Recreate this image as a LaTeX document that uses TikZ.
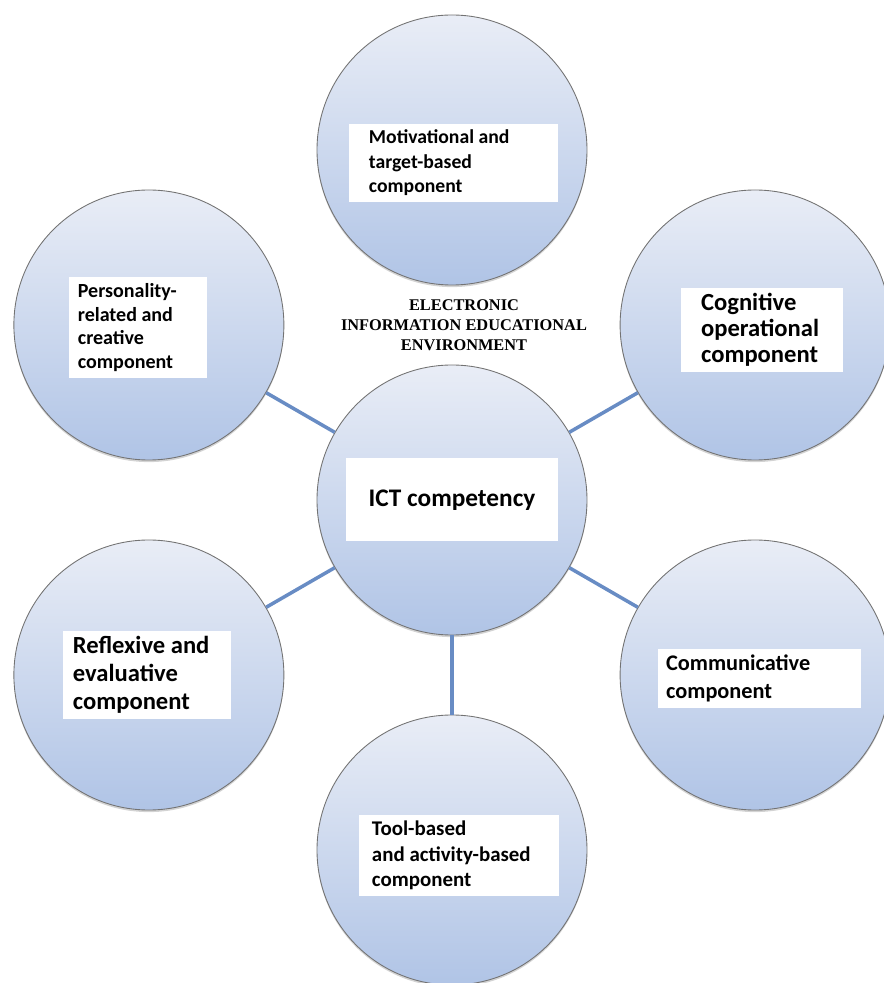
\documentclass[tikz,border=0pt]{standalone}
\usepackage{fontspec}
\setmainfont{Carlito}
\newfontfamily\serifbold[UprightFont={* Bold}]{Liberation Serif}
\usetikzlibrary{shadows}

\definecolor{ringtop}{RGB}{233,237,246}
\definecolor{ringbot}{RGB}{176,196,230}
\definecolor{linkblue}{RGB}{104,140,196}

\tikzset{
  ring/.style={circle, minimum size=5.4cm, inner sep=0pt, draw=black!55, line width=0.5pt,
    top color=ringtop, bottom color=ringbot,
    drop shadow={shadow xshift=0pt, shadow yshift=-1.2pt, opacity=0.35}},
  tag/.style={fill=white, align=left, font=\bfseries, minimum height=#1,
    execute at begin node={\spaceskip=0pt\xspaceskip=0pt}},
  link/.style={linkblue, line width=2pt}
}

\begin{document}
\begin{tikzpicture}
  \useasboundingbox (-9.04,-9.66) rectangle (8.62,10.0);
  % connectors first, the rings sit on top
  \node[ring] (ict) at (0,0) {};
  \foreach \a/\n in {90/mot,150/pers,30/cog,210/refl,330/comm,270/tool}
    \node[ring] (\n) at (\a:7) {};
  \foreach \n in {pers,cog,refl,comm,tool}
    \draw[link] (ict) -- (\n);

  % white label boxes
  \node[tag=1.32cm, text width=3.38cm, inner xsep=0.4cm, font=\bfseries\fontsize{11.2}{13.9}\selectfont]
    (motL) at ([shift={(0.03,-0.26)}]mot.center) {Motivational and\\target-based\\component};
  \node[tag=1.74cm, text width=2.4cm, inner xsep=0.18cm, font=\bfseries\fontsize{11.4}{13.6}\selectfont]
    (persL) at ([shift={(-0.22,-0.05)}]pers.center) {Personality-\\related and\\creative\\component};
  \node[tag=1.68cm, text width=2.44cm, inner xsep=0.4cm, font=\bfseries\fontsize{14}{14.8}\selectfont]
    (cogL) at ([shift={(0.14,-0.1)}]cog.center) {Cognitive\\operational\\component};
  \node[tag=1.64cm, text width=2.96cm, inner xsep=0.2cm, font=\bfseries\fontsize{14}{15.9}\selectfont]
    (reflL) at ([shift={(-0.04,0)}]refl.center) {Reflexive and\\evaluative\\component};
  \node[tag=1.14cm, text width=3.74cm, inner xsep=0.16cm, font=\bfseries\fontsize{12.7}{15.9}\selectfont]
    (commL) at ([shift={(0.09,-0.07)}]comm.center) {Communicative\\component};
  \node[tag=1.42cm, text width=3.48cm, inner xsep=0.26cm, font=\bfseries\fontsize{11.9}{14.5}\selectfont]
    (toolL) at ([shift={(0.14,-0.11)}]tool.center) {Tool-based\\and activity-based\\component};
  \node[tag=1.66cm, minimum width=4.24cm, align=center, font=\bfseries\fontsize{14.4}{17}\selectfont]
    (ictL) at (ict.center) {ICT competency};

  % environment caption
  \node[align=center, font=\serifbold\fontsize{9.3}{11.3}\selectfont]
    (env) at (0.24,3.5) {ELECTRONIC\\INFORMATION EDUCATIONAL\\ENVIRONMENT};
\end{tikzpicture}
\end{document}
